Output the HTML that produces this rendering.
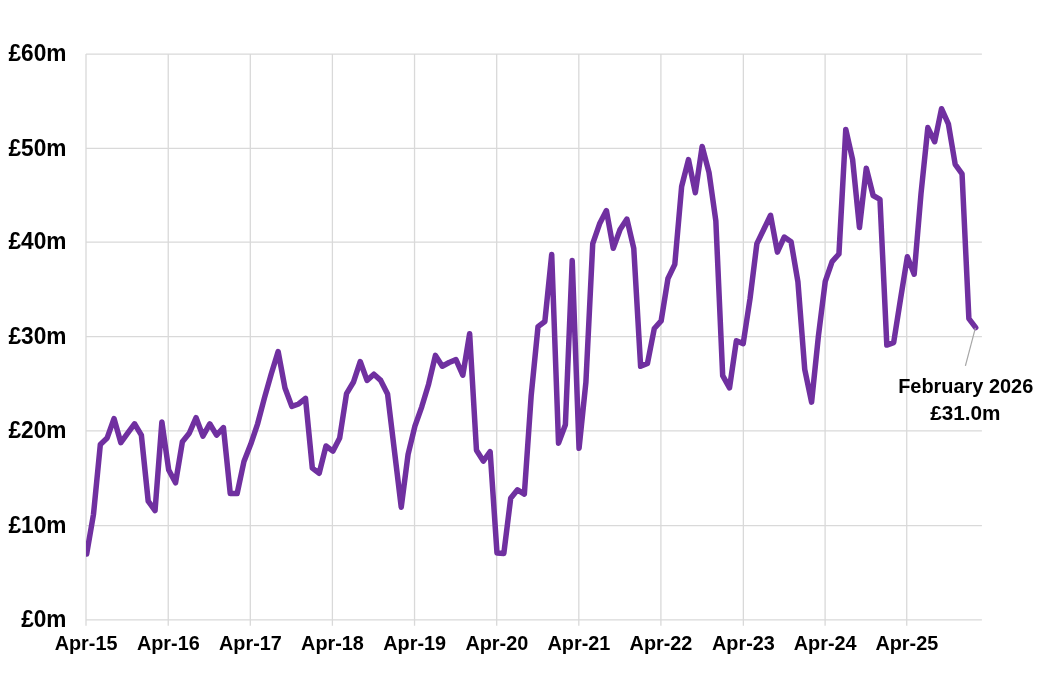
<!DOCTYPE html>
<html lang="en">
<head>
<meta charset="utf-8">
<title>Monthly revenue chart</title>
<style>
html,body{margin:0;padding:0;background:#fff;}
body{width:1043px;height:681px;overflow:hidden;position:relative;font-family:"Liberation Sans",sans-serif;}
svg{position:absolute;left:0;top:0;display:block;}
text{font-family:"Liberation Sans",sans-serif;font-weight:bold;fill:#000;}
.yl{font-size:23.8px;text-anchor:end;}
.xl{font-size:20.4px;text-anchor:middle;}
.dl{font-size:19.6px;text-anchor:middle;}
</style>
</head>
<body>
<svg width="1043" height="681" viewBox="0 0 1043 681">
<rect x="0" y="0" width="1043" height="681" fill="#ffffff"/>
<g stroke="#d9d9d9" stroke-width="1.3" fill="none">
<line x1="86.00" y1="619.95" x2="981.91" y2="619.95"/>
<line x1="86.00" y1="525.58" x2="981.91" y2="525.58"/>
<line x1="86.00" y1="430.95" x2="981.91" y2="430.95"/>
<line x1="86.00" y1="336.55" x2="981.91" y2="336.55"/>
<line x1="86.00" y1="242.15" x2="981.91" y2="242.15"/>
<line x1="86.00" y1="148.40" x2="981.91" y2="148.40"/>
<line x1="86.00" y1="54.05" x2="981.91" y2="54.05"/>
<line x1="86.00" y1="54.05" x2="86.00" y2="625.65"/>
<line x1="168.23" y1="54.05" x2="168.23" y2="625.65"/>
<line x1="250.30" y1="54.05" x2="250.30" y2="625.65"/>
<line x1="332.40" y1="54.05" x2="332.40" y2="625.65"/>
<line x1="414.55" y1="54.05" x2="414.55" y2="625.65"/>
<line x1="496.70" y1="54.05" x2="496.70" y2="625.65"/>
<line x1="578.82" y1="54.05" x2="578.82" y2="625.65"/>
<line x1="660.90" y1="54.05" x2="660.90" y2="625.65"/>
<line x1="743.35" y1="54.05" x2="743.35" y2="625.65"/>
<line x1="825.10" y1="54.05" x2="825.10" y2="625.65"/>
<line x1="906.73" y1="54.05" x2="906.73" y2="625.65"/>
</g>
<text class="yl" x="66.5" y="627.25" textLength="45.3" lengthAdjust="spacingAndGlyphs">£0m</text>
<text class="yl" x="66.5" y="532.88" textLength="58.0" lengthAdjust="spacingAndGlyphs">£10m</text>
<text class="yl" x="66.5" y="438.25" textLength="58.0" lengthAdjust="spacingAndGlyphs">£20m</text>
<text class="yl" x="66.5" y="343.85" textLength="58.0" lengthAdjust="spacingAndGlyphs">£30m</text>
<text class="yl" x="66.5" y="249.45" textLength="58.0" lengthAdjust="spacingAndGlyphs">£40m</text>
<text class="yl" x="66.5" y="155.70" textLength="58.0" lengthAdjust="spacingAndGlyphs">£50m</text>
<text class="yl" x="66.5" y="61.35" textLength="58.0" lengthAdjust="spacingAndGlyphs">£60m</text>
<text class="xl" x="86.10" y="649.7" textLength="62.8" lengthAdjust="spacingAndGlyphs">Apr-15</text>
<text class="xl" x="168.33" y="649.7" textLength="62.8" lengthAdjust="spacingAndGlyphs">Apr-16</text>
<text class="xl" x="250.40" y="649.7" textLength="62.8" lengthAdjust="spacingAndGlyphs">Apr-17</text>
<text class="xl" x="332.50" y="649.7" textLength="62.8" lengthAdjust="spacingAndGlyphs">Apr-18</text>
<text class="xl" x="414.65" y="649.7" textLength="62.8" lengthAdjust="spacingAndGlyphs">Apr-19</text>
<text class="xl" x="496.80" y="649.7" textLength="62.8" lengthAdjust="spacingAndGlyphs">Apr-20</text>
<text class="xl" x="578.92" y="649.7" textLength="62.8" lengthAdjust="spacingAndGlyphs">Apr-21</text>
<text class="xl" x="661.00" y="649.7" textLength="62.8" lengthAdjust="spacingAndGlyphs">Apr-22</text>
<text class="xl" x="743.45" y="649.7" textLength="62.8" lengthAdjust="spacingAndGlyphs">Apr-23</text>
<text class="xl" x="825.20" y="649.7" textLength="62.8" lengthAdjust="spacingAndGlyphs">Apr-24</text>
<text class="xl" x="906.83" y="649.7" textLength="62.8" lengthAdjust="spacingAndGlyphs">Apr-25</text>
<clipPath id="plot"><rect x="86.00" y="0" width="905.91" height="681"/></clipPath>
<polyline clip-path="url(#plot)" points="86.65,553.97 93.49,514.35 100.33,444.55 107.17,437.94 114.01,418.61 120.84,442.66 127.68,433.23 134.52,423.79 141.36,435.11 148.20,501.14 155.04,510.58 161.88,421.91 168.72,470.02 175.56,482.75 182.40,441.72 189.24,433.23 196.07,417.66 202.91,436.06 209.75,423.79 216.59,435.11 223.43,427.57 230.27,493.60 237.11,493.60 243.95,461.53 250.79,444.07 257.62,423.79 264.46,397.85 271.30,373.80 278.14,351.63 284.98,387.95 291.82,406.34 298.66,403.98 305.50,398.32 312.34,468.13 319.18,473.22 326.01,445.96 332.85,451.15 339.69,437.94 346.53,393.61 353.37,382.29 360.21,361.54 367.05,380.40 373.89,374.18 380.73,380.40 387.57,393.99 394.40,450.58 401.24,507.18 408.08,454.45 414.92,426.15 421.76,406.81 428.60,384.18 435.44,355.40 442.28,366.25 449.12,362.48 455.96,359.65 462.80,375.21 469.63,333.71 476.47,450.21 483.31,461.05 490.15,451.62 496.99,553.03 503.83,553.50 510.67,498.31 517.51,489.82 524.35,494.07 531.19,395.49 538.02,326.63 544.86,321.45 551.70,254.47 558.54,443.13 565.38,424.74 572.22,260.60 579.06,448.32 585.90,382.29 592.74,243.62 599.58,223.81 606.41,210.61 613.25,248.34 620.09,229.47 626.93,219.10 633.77,248.34 640.61,366.25 647.45,363.42 654.29,328.52 661.13,320.97 667.97,278.53 674.80,264.38 681.64,186.46 688.48,159.67 695.32,192.69 702.16,146.46 709.00,172.40 715.84,220.98 722.68,375.69 729.52,387.95 736.36,340.78 743.19,343.61 750.03,298.71 756.87,243.62 763.71,229.47 770.55,215.32 777.39,252.11 784.23,237.02 791.07,241.74 797.91,281.73 804.75,369.55 811.58,402.10 818.42,336.07 825.26,281.36 832.10,261.55 838.94,254.00 845.78,129.48 852.62,159.67 859.46,227.59 866.30,168.16 873.13,195.51 879.97,199.29 886.81,345.03 893.65,342.67 900.49,299.28 907.33,256.83 914.17,274.28 921.01,193.63 927.85,127.60 934.69,141.75 941.52,108.73 948.36,123.82 955.20,164.39 962.04,173.82 968.88,318.62 975.72,327.58" fill="none" stroke="#7030A0" stroke-width="5.5" stroke-linejoin="round" stroke-linecap="round"/>
<line x1="975.42" y1="327.78" x2="965.4" y2="365.8" stroke="#a6a6a6" stroke-width="1.2"/>
<text class="dl" x="965.7" y="393.0" textLength="135.1" lengthAdjust="spacingAndGlyphs">February 2026</text>
<text class="dl" x="965.3" y="420.4" textLength="70.3" lengthAdjust="spacingAndGlyphs">£31.0m</text>
</svg>
</body>
</html>
